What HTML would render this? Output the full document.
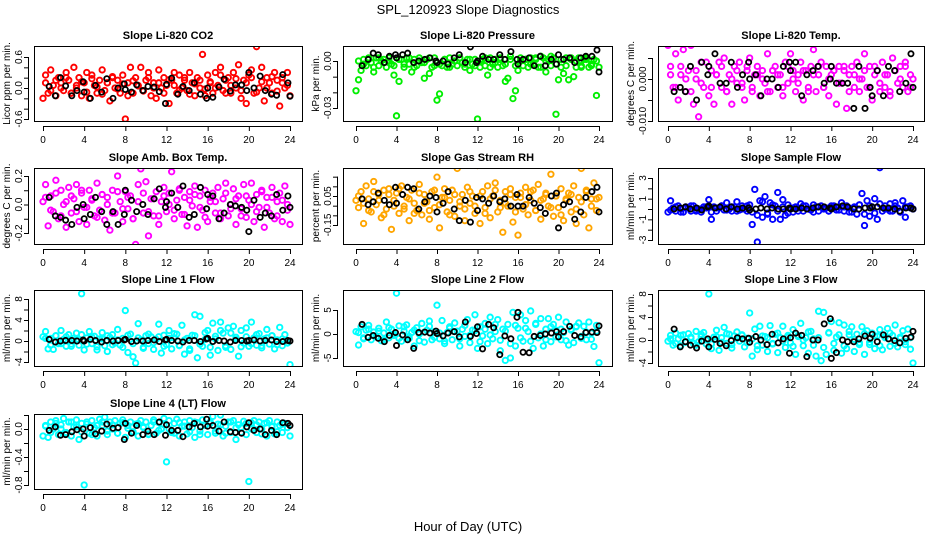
<!DOCTYPE html>
<html><head><meta charset="utf-8"><style>
html,body{margin:0;padding:0;background:#fff;}
svg{display:block;font-family:"Liberation Sans",sans-serif;}
</style></head><body>
<svg id="chart" width="936" height="540" viewBox="0 0 936 540">
<text x="468" y="14" text-anchor="middle" font-size="13">SPL_120923  Slope Diagnostics</text>
<text x="468" y="531" text-anchor="middle" font-size="13">Hour of Day (UTC)</text>
</svg>
<script>
const xTicks = [0,4,8,12,16,20,24];
const blackHours = [0.6,1.2,1.7,2.2,2.8,3.3,3.9,4.0,4.6,5.1,5.7,6.2,6.8,7.3,7.9,8.0,8.6,9.1,9.7,10.2,10.8,11.3,11.9,12.0,12.5,13.1,13.6,14.2,14.7,15.3,15.9,16.0,16.5,17.1,17.6,18.2,18.7,19.3,19.8,20.0,20.5,21.1,21.6,22.2,22.7,23.3,23.8,24.0];
const titles = ["Slope Li-820 CO2","Slope Li-820 Pressure","Slope Li-820 Temp.","Slope Amb. Box Temp.","Slope Gas Stream RH","Slope Sample Flow","Slope Line 1 Flow","Slope Line 2 Flow","Slope Line 3 Flow","Slope Line 4 (LT) Flow"];
const yTitles = ["Licor ppm per min.","kPa per min.","degrees C per min.","degrees C per min.","percent per min.","ml/min per min.","ml/min per min.","ml/min per min.","ml/min per min.","ml/min per min."];
const colors = ["#ff0000","#00ee00","#ff00ff","#ff00ff","#ffa500","#0000ff","#00ffff","#00ffff","#00ffff","#00ffff"];
const c1 = [-0.2,0.25,-0.1,0.35,0.05,-0.15,0.2,0.1,-0.05,0.3,0.15,-0.1,0.4,0.0,0.2,-0.15,0.1,0.3,-0.2,0.25,0.05,-0.1,0.15,0.35,-0.05,0.1,-0.25,0.2,0.0,0.15,-0.1,0.25,-0.6,0.1,0.4,-0.1,0.2,0.05,0.4,-0.05,0.15,0.3,-0.15,0.1,-0.2,0.35,0.0,0.2,0.05,-0.3,0.15,0.3,-0.1,0.25,0.0,0.15,-0.05,0.3,0.1,-0.15,0.2,0.0,0.65,-0.15,0.25,0.1,-0.1,0.3,0.05,0.4,-0.05,0.15,0.2,-0.1,0.3,0.0,0.45,-0.2,0.15,-0.3,0.25,0.35,-0.1,0.8,0.0,0.4,-0.25,0.2,0.1,-0.1,0.3,0.15,-0.35,0.2,0.0,0.3,-0.15];
const d1 = [0.1,-0.05,0.15,0.0,0.2,-0.1,0.05,0.12,-0.08,0.18,0.02,-0.12,0.1,0.22,-0.02,0.08,-0.15,0.14,0.04,-0.06,0.2,0.0,0.1,-0.1,0.16,0.05,-0.04,0.2,-0.12,0.08,0.15,-0.02,0.12,0.0,0.25,-0.1,0.05,0.18,-0.05,0.1,0.2,-0.08,0.12,0.0,0.22,-0.06,0.1,0.05];
const b1 = [0.03,-0.15,0.2,0.04,-0.15,-0.05,0.12,-0.08,-0.2,0.05,-0.08,0.18,-0.2,0.0,0.08,-0.03,-0.08,0.06,-0.05,0.03,0.02,-0.07,-0.3,0.07,0.19,-0.12,0.03,-0.05,0.1,-0.12,-0.2,0.0,-0.18,0.02,0.17,-0.06,0.06,0.06,-0.05,0.3,0.0,0.23,-0.05,-0.12,-0.14,0.26,0.1,-0.16];
const c2 = [-0.019,-0.012,-0.006,0.001,-0.003,0.002,-0.001,-0.007,0.002,-0.003,0.0,0.001,-0.004,0.002,-0.002,-0.009,-0.035,-0.013,0.001,-0.004,0.002,-0.002,-0.007,0.001,-0.003,0.002,-0.001,-0.011,0.001,-0.008,-0.004,0.002,-0.025,-0.021,-0.003,0.001,-0.004,0.002,-0.002,0.0,-0.003,0.002,-0.001,-0.004,0.001,-0.006,-0.002,0.001,-0.037,-0.004,0.001,-0.003,-0.009,0.002,-0.002,0.001,-0.004,0.002,-0.003,-0.013,-0.011,0.001,-0.024,-0.019,-0.006,0.002,-0.003,0.001,-0.004,0.002,-0.002,0.001,-0.004,0.003,0.002,-0.007,0.001,-0.003,0.002,-0.034,-0.012,-0.004,-0.008,0.002,-0.012,0.001,-0.010,-0.004,0.002,-0.003,0.001,0.002,-0.004,-0.003,0.001,-0.022,-0.004];
const d2 = [0.0,-0.002,0.001,-0.004,0.002,-0.001,0.0,-0.003,0.001,-0.002,0.002,-0.004,0.0,-0.001,0.002,-0.003,-0.002,0.001,-0.004,0.0,0.002,-0.002,0.001,-0.003,0.0,0.002,-0.004,-0.001,0.001,-0.002,0.003,-0.003,0.0,0.001,-0.002,0.002,-0.004,0.0,0.003,-0.002,0.001,-0.003,0.002,0.0,-0.004,0.001,-0.002,0.0];
const b2 = [-0.003,0.001,0.005,0.004,-0.001,0.003,0.004,0.002,0.004,0.005,-0.001,0.0,0.001,0.002,0.0,-0.001,0.0,-0.002,0.002,0.004,-0.001,0.009,-0.001,0.0,0.003,0.001,0.001,0.004,0.001,0.006,0.001,-0.002,0.001,0.002,-0.003,0.003,-0.003,0.001,-0.002,0.004,0.001,0.002,-0.001,0.002,0.003,0.003,0.007,-0.007];
const c3 = [0.008,0.003,-0.002,0.006,-0.005,0.001,0.007,-0.003,0.002,0.008,-0.006,0.0,-0.009,0.004,-0.002,0.009,-0.004,0.002,-0.006,0.001,0.004,-0.002,0.005,-0.003,0.001,-0.006,0.003,-0.001,0.004,-0.002,-0.005,0.002,0.005,-0.003,0.001,0.003,-0.004,0.002,-0.001,0.006,-0.003,0.002,0.003,-0.002,0.001,-0.004,0.004,-0.001,0.006,0.002,-0.003,0.001,0.004,-0.005,0.002,-0.002,0.003,0.007,-0.003,0.001,0.004,-0.002,0.003,-0.004,0.001,0.002,-0.006,0.003,-0.001,0.002,-0.007,0.001,0.003,-0.002,0.004,-0.003,0.0,0.006,-0.002,0.003,-0.005,0.001,0.002,-0.003,0.004,-0.002,0.001,-0.004,0.005,0.002,-0.001,0.003,-0.002,0.004,-0.003,0.001,0.0];
const d3 = [0.001,-0.002,0.003,0.0,-0.003,0.002,-0.001,0.004,-0.002,0.001,0.003,-0.003,0.0,0.002,-0.001,0.003,-0.002,0.001,0.0,-0.003,0.002,0.001,-0.002,0.003,0.0,-0.001,0.002,-0.003,0.001,0.003,-0.002,0.0,0.002,-0.001,0.003,-0.003,0.001,0.0,0.002,-0.002,0.003,-0.001,0.001,-0.003,0.002,0.0,0.003,-0.002];
const b3 = [-0.003,-0.002,-0.003,0.003,-0.005,0.004,0.001,0.003,0.006,-0.001,-0.001,0.004,-0.002,0.001,0.004,0.0,0.001,-0.004,0.0,0.0,-0.002,0.003,0.004,0.002,0.004,-0.004,0.001,0.002,0.003,-0.001,0.0,0.003,-0.001,-0.001,-0.001,-0.007,0.003,-0.007,-0.002,-0.004,0.002,-0.004,0.003,0.002,-0.003,-0.001,0.006,-0.002];
const c4 = [0.02,0.14,-0.15,0.06,-0.05,0.17,-0.1,0.1,0.0,-0.16,0.12,-0.06,0.04,0.14,-0.12,0.08,-0.02,-0.14,0.1,0.03,-0.08,0.15,-0.04,0.07,-0.11,0.05,-0.18,0.1,-0.06,0.2,0.02,-0.12,0.09,-0.03,0.06,-0.1,-0.28,0.14,0.25,-0.06,0.16,-0.22,0.04,-0.08,0.09,-0.14,0.02,0.12,-0.05,0.08,0.23,-0.1,0.03,0.11,-0.07,0.05,-0.15,0.09,-0.01,0.13,-0.16,0.06,-0.04,0.1,-0.12,0.02,0.08,-0.06,0.12,-0.1,0.04,0.15,-0.08,0.0,0.11,-0.14,0.06,-0.03,0.14,-0.09,0.03,0.15,-0.12,0.07,-0.02,0.1,-0.16,0.05,-0.06,0.12,-0.1,0.02,0.08,-0.12,0.13,-0.04,-0.14];
const d4 = [0.05,-0.04,0.08,-0.08,0.02,0.06,-0.05,0.1,-0.02,0.04,-0.09,0.07,0.0,-0.06,0.09,-0.03,0.05,-0.1,0.02,0.08,-0.05,0.04,-0.08,0.06,0.0,-0.04,0.1,-0.07,0.03,0.07,-0.02,-0.09,0.05,0.02,-0.06,0.08,-0.03,0.04,-0.08,0.06,0.0,-0.05,0.09,-0.02,0.05,-0.08,0.03,0.0];
const b4 = [0.05,-0.08,-0.09,-0.11,-0.14,-0.02,0.0,-0.1,-0.07,0.05,-0.05,-0.14,-0.05,-0.14,-0.07,0.1,0.03,-0.05,0.0,-0.07,0.04,0.11,-0.02,0.02,0.08,-0.02,0.13,-0.09,-0.07,0.12,-0.03,0.07,0.06,-0.1,-0.06,0.0,-0.01,-0.02,-0.04,-0.19,0.03,-0.09,-0.06,-0.08,0.07,-0.04,0.06,-0.02];
const c5 = [0.02,-0.03,0.08,-0.14,0.12,0.03,-0.06,0.15,-0.01,0.06,-0.1,0.09,-0.04,0.1,-0.18,0.02,0.07,-0.07,0.12,-0.02,0.04,-0.12,0.09,0.0,-0.05,0.13,-0.08,0.06,0.01,-0.11,0.08,-0.03,0.18,-0.17,0.04,0.1,-0.06,0.02,0.09,-0.09,0.24,-0.02,0.06,-0.12,0.11,0.0,0.05,-0.07,0.26,-0.14,0.08,-0.03,0.12,-0.1,0.05,0.14,-0.06,0.02,-0.2,0.08,-0.02,0.1,-0.13,0.04,-0.22,0.07,-0.04,0.11,-0.08,0.02,0.09,-0.05,0.13,-0.11,0.03,0.06,-0.02,0.2,-0.09,0.05,-0.03,0.1,-0.12,0.02,0.07,-0.06,0.12,-0.14,0.04,0.24,-0.08,0.09,-0.17,0.03,0.14,-0.05,0.04];
const d5 = [0.05,0.0,-0.05,0.08,0.02,-0.08,0.06,-0.02,0.1,-0.04,0.03,-0.07,0.07,0.0,-0.05,0.09,-0.01,0.04,-0.08,0.06,0.01,-0.04,0.08,-0.02,0.05,-0.07,0.03,0.09,-0.03,0.0,0.06,-0.06,0.04,-0.01,0.08,-0.05,0.02,0.07,-0.03,0.05,-0.08,0.03,0.06,-0.04,0.01,0.08,-0.02,0.03];
const b5 = [0.03,-0.01,0.01,0.07,0.02,-0.01,0.11,0.0,0.06,0.11,0.1,-0.04,0.01,0.05,0.04,-0.06,0.0,0.08,-0.04,-0.12,0.02,-0.13,0.04,-0.05,0.03,0.0,0.05,0.01,0.03,-0.02,0.06,-0.02,-0.02,0.04,0.0,-0.03,-0.07,0.05,0.07,-0.17,-0.01,0.01,-0.11,-0.06,0.04,0.08,0.11,-0.06];
const c6 = [-0.3,0.8,0.1,-0.2,0.3,0.0,-0.3,0.2,0.1,-0.2,0.3,-0.1,0.0,-0.3,0.2,0.1,0.9,-1.0,0.2,-0.2,0.1,0.3,-0.1,0.6,0.0,-0.2,0.2,0.7,-0.1,0.3,0.0,-0.2,0.4,-1.5,1.9,-3.2,0.8,-0.8,1.2,-0.4,0.6,-1.0,0.3,1.6,-1.0,0.2,-0.6,0.4,0.0,-0.3,0.2,0.1,0.5,-0.2,0.3,0.0,-0.1,0.4,0.2,-0.2,0.3,0.0,0.1,-0.2,0.3,0.1,-0.1,0.2,0.6,-0.2,0.3,0.1,-0.3,0.2,-0.5,0.4,1.5,-1.6,0.8,-0.7,0.2,1.0,-1.0,4.0,-0.2,0.3,0.0,0.5,-0.2,0.6,0.1,-0.3,0.8,-0.8,0.2,0.3,0.0];
const d6 = [-0.1,0.2,-0.3,0.1,0.3,-0.2,0.0,0.2,-0.3,0.1,0.3,-0.1,0.2,-0.2,0.0,0.3,-0.3,-0.6,0.7,-0.5,0.4,-0.2,0.9,-0.4,0.1,-0.2,0.3,0.0,-0.3,0.2,0.1,-0.2,0.3,-0.1,0.2,-0.3,0.1,0.4,-0.5,0.3,-0.4,0.5,0.0,-0.2,0.3,-0.3,0.2,0.1];
const b6 = [0.0,0.1,0.2,0.0,0.1,-0.1,0.2,0.3,0.1,0.2,0.0,0.2,0.0,0.1,0.1,-0.1,0.0,0.1,0.0,0.1,0.0,0.0,0.1,0.0,0.0,0.1,0.0,0.1,0.2,0.2,0.1,0.0,0.2,0.3,0.2,0.0,0.0,0.1,0.1,0.2,0.2,0.1,0.1,0.0,-0.2,0.1,0.1,0.0];
const c7 = [0.8,1.8,-1.5,0.5,-1.6,1.0,-0.5,2.0,0.3,-1.0,1.2,-0.6,0.5,1.5,-0.8,9.0,-1.7,0.6,1.8,-0.5,0.9,-1.7,0.4,1.6,-0.9,-2.0,0.7,1.2,-0.4,2.2,-0.8,0.5,5.8,-2.2,1.3,-3.0,-4.2,3.3,0.2,-1.2,1.0,-0.5,0.8,-1.6,0.3,3.2,-2.3,1.1,-0.7,2.0,-1.5,0.6,1.3,-0.9,3.0,-2.5,0.5,-1.8,1.1,5.0,-3.2,4.7,-1.0,0.3,2.0,-2.7,3.4,0.9,-1.8,3.6,1.5,-1.2,2.5,-1.6,2.8,0.7,-2.9,2.0,-0.4,2.5,-1.0,3.6,0.6,-0.8,1.4,-1.3,0.4,2.2,-0.6,1.0,-1.5,0.2,2.6,-0.9,1.2,-0.4,-4.5];
const d7 = [0.5,-0.8,1.0,-0.5,0.8,-1.0,0.3,1.2,-0.6,0.7,-1.1,0.4,1.0,-0.7,0.2,-1.2,1.1,-0.5,0.6,-1.4,1.3,-0.3,0.8,-1.0,0.5,1.4,-0.8,0.2,-1.5,1.0,-0.6,1.6,-1.2,0.4,2.0,-0.9,1.5,0.3,-1.1,0.8,-0.5,1.2,-0.9,0.6,1.0,-0.7,0.4,-0.3];
const b7 = [0.3,-0.2,0.0,0.1,0.1,0.0,0.2,0.0,0.3,0.1,-0.2,0.1,0.0,0.1,0.2,0.3,-0.1,0.0,0.0,0.1,0.2,-0.1,0.2,0.3,0.1,0.0,-0.2,0.1,0.1,-0.1,0.4,0.5,-0.1,0.1,0.0,-0.2,0.1,0.1,0.0,0.1,0.2,0.0,0.1,0.2,-0.1,-0.1,0.1,0.0];
const c8 = [0.5,-2.3,1.5,-1.0,0.8,1.8,-1.2,0.4,-0.6,1.2,-1.4,0.2,2.5,-0.8,1.0,-0.3,8.5,1.7,-1.5,0.6,1.9,-0.9,0.3,-2.5,1.3,0.0,2.2,-1.7,0.8,2.7,-1.2,0.5,6.0,-1.0,2.8,-2.0,0.3,1.5,-1.2,2.3,0.6,-2.5,1.0,-0.5,3.0,-1.8,0.8,4.0,-3.0,1.5,-0.4,2.2,-2.0,3.5,-1.0,0.5,3.0,-3.5,1.0,-5.5,2.0,-5.0,4.5,-2.5,1.2,4.0,-1.5,2.8,0.5,4.8,-3.0,2.0,-0.8,3.2,-2.5,1.0,3.2,-1.6,2.0,0.8,3.5,-1.2,0.3,2.5,-2.3,1.0,-1.8,1.5,2.3,-0.5,1.6,-1.2,2.5,0.2,-2.6,1.8,-6.0];
const d8 = [0.3,-0.8,1.0,-0.4,0.6,-1.2,1.3,0.0,-0.9,1.5,-0.5,0.8,-1.4,0.4,1.6,-0.7,0.2,-1.5,1.2,0.5,-1.0,1.8,-0.3,0.7,-1.6,1.0,-0.2,2.0,-1.3,0.6,-2.0,1.8,-0.8,1.2,-1.5,2.2,0.0,-1.2,1.5,-0.6,1.0,-1.4,0.8,1.6,-0.9,0.4,-1.1,0.6];
const b8 = [2.0,-0.7,-0.3,-0.9,-1.6,-0.3,0.3,-2.4,-0.2,-1.2,-3.0,0.3,0.4,0.2,0.6,0.1,-0.4,0.2,0.5,-0.6,2.5,-0.5,0.1,1.5,-3.1,2.0,1.3,-4.3,-0.4,-1.0,3.5,4.5,-3.8,-3.9,-0.5,-0.3,0.0,0.2,0.5,-0.6,0.5,1.6,-0.3,-0.6,0.3,0.4,0.3,1.7];
const c9 = [-0.2,0.8,-0.9,1.2,0.2,-1.0,0.9,-0.4,1.1,0.3,-0.6,1.5,-0.3,0.6,1.3,-0.7,8.0,-1.5,0.5,1.7,-1.8,0.4,2.2,-0.6,1.0,-1.4,0.7,1.4,-0.2,0.8,-1.2,0.3,4.7,-2.8,1.9,-1.7,2.4,-0.9,0.6,-2.0,2.5,-0.7,1.0,-2.2,0.4,2.4,-1.3,0.8,-0.5,1.8,-2.5,0.6,2.9,-1.0,0.4,-2.3,1.5,0.2,-2.8,5.0,-3.6,4.8,-2.5,1.2,3.2,-1.8,0.5,3.0,-2.3,2.6,-1.5,0.9,2.3,-2.0,1.0,-0.5,2.3,-2.5,1.6,-0.8,1.2,-1.5,0.7,1.8,-1.7,0.4,2.0,-1.1,0.8,2.6,-1.2,0.5,1.6,-0.3,1.9,-1.6,-4.0];
const d9 = [0.2,-0.6,0.8,-0.3,0.5,-0.9,1.0,0.0,-0.7,0.6,-0.4,1.1,-0.8,0.3,0.9,-0.5,0.2,-1.0,0.7,0.4,-0.6,1.2,-0.2,0.5,-1.1,0.8,0.0,1.4,-0.9,0.4,-1.3,1.3,-0.6,0.9,-1.0,1.5,0.1,-0.8,1.1,-0.4,0.7,-1.0,0.6,1.2,-0.6,0.3,-0.8,0.4];
const b9 = [1.9,-1.2,-0.3,-0.9,-1.4,-0.2,0.2,-1.2,0.1,-0.6,-1.0,-0.1,0.4,0.2,0.3,-0.4,0.6,0.0,-0.8,1.0,-0.5,0.2,-2.3,0.4,1.2,0.8,-2.9,0.0,0.0,2.8,3.7,-3.2,-2.2,0.0,-0.3,-0.3,0.2,0.7,0.3,1.0,-0.3,0.9,0.2,-0.1,-0.5,0.3,0.5,1.5];
const c10 = [-0.1,0.05,-0.12,0.1,0.0,0.12,-0.08,0.06,0.15,-0.05,0.1,-0.1,0.03,0.13,-0.15,0.08,-0.8,0.1,-0.06,0.12,0.02,-0.1,0.14,0.05,0.17,-0.08,0.1,0.0,0.12,-0.06,0.08,0.13,-0.12,0.05,0.1,-0.04,0.07,-0.1,0.12,0.02,0.1,-0.08,0.05,0.13,-0.06,0.09,0.0,0.15,-0.47,0.12,-0.05,0.08,0.14,-0.1,0.04,0.1,-0.07,0.12,0.02,-0.12,0.09,-0.03,0.13,0.06,-0.08,0.1,0.18,-0.06,0.07,0.2,-0.1,0.04,0.1,-0.05,0.12,-0.15,0.06,0.02,0.11,-0.08,-0.75,0.09,0.12,-0.05,0.1,0.0,0.08,-0.1,0.12,0.04,-0.07,0.1,0.05,-0.05,0.08,0.02,-0.1];
const d10 = [0.04,-0.05,0.08,0.0,-0.07,0.1,0.03,-0.04,0.07,-0.08,0.05,0.1,-0.03,0.06,-0.06,0.09,0.01,-0.05,0.08,0.03,-0.07,0.1,-0.02,0.06,0.0,-0.06,0.09,0.04,-0.04,0.1,-0.08,0.05,0.08,-0.03,0.06,-0.06,0.1,0.02,-0.05,0.08,0.0,0.06,-0.07,0.09,0.03,-0.04,0.07,0.02];
const b10 = [-0.02,0.03,-0.09,-0.08,-0.04,-0.01,0.0,-0.1,0.02,-0.07,-0.03,0.07,0.01,0.02,-0.15,0.08,-0.06,0.05,-0.08,-0.03,-0.08,0.1,-0.09,0.06,-0.02,-0.02,-0.11,0.03,0.08,0.03,0.14,0.04,0.05,-0.03,0.1,-0.04,-0.05,-0.06,0.03,0.09,-0.02,0.0,-0.08,-0.02,-0.08,0.09,0.08,0.05];
const colorSeries = [c1,c2,c3,c4,c5,c6,c7,c8,c9,c10];
const colorSeries2 = [d1,d2,d3,d4,d5,d6,d7,d8,d9,d10];
const blackSeries = [b1,b2,b3,b4,b5,b6,b7,b8,b9,b10];
const yTickVals = [[0.6,0.4,0.2,0,-0.2,-0.4,-0.6],[0,-0.01,-0.02,-0.03],[0.005,0,-0.005,-0.01],[0.2,0.1,0,-0.1,-0.2],[0.1833,0.1167,0.05,-0.0167,-0.0833,-0.15],[3,2,1,0,-1,-2,-3],[8,6,4,2,0,-2,-4],[5,0,-5],[8,6,4,2,0,-2,-4],[0.2,0,-0.2,-0.4,-0.6,-0.8]];
const yTickLabels = [["0.6","","","0.0","","","-0.6"],["0.00","","","-0.03"],["","0.000","","-0.010"],["0.2","","0.0","","-0.2"],["","","0.05","","","-0.15"],["3","","1","","-1","","-3"],["8","","4","","0","","-4"],["5","0","-5"],["8","","4","","0","","-4"],["","0.0","","-0.4","","-0.8"]];
const cols = [{l:34,r:302,x0:43,x1:290},{l:343,r:612,x0:356,x1:599},{l:658,r:924,x0:668,x1:913}];
const rows = [{t:46,b:121},{t:168,b:244},{t:290,b:366},{t:414,b:489}];
const yRefs = [[0.6,57,-0.6,119],[0,61,-0.03,108],[0,79,-0.01,121],[0.2,176,-0.2,233],[0.05,196,-0.15,225],[3,178,-3,240],[8,299,-4,362],[5,310,-5,358],[8,294,-4,363],[0,429,-0.8,485]];

const NS = "http://www.w3.org/2000/svg";
const svg = document.getElementById('chart');
function mk(tag, attrs, parent){const e=document.createElementNS(NS,tag);for(const k in attrs)e.setAttribute(k,attrs[k]);(parent||svg).appendChild(e);return e;}

titles.forEach((title, i) => {
  const col = cols[i % 3], row = rows[Math.floor(i / 3)];
  const g = mk('g', {});
  
  
  const xs = v => col.x0 + (v / 24) * (col.x1 - col.x0);
  const [v1, p1, v2, p2] = yRefs[i];
  const ys = v => p1 + (v - v1) * (p2 - p1) / (v2 - v1);
  const clip = mk('clipPath', {id: 'clip' + i}, g);
  mk('rect', {x: col.l, y: row.t, width: col.r - col.l, height: row.b - row.t}, clip);
  const pts = mk('g', {'clip-path': 'url(#clip' + i + ')'}, g);
  const cs = colorSeries[i];
  cs.forEach((v, k) => {
    const c = mk('circle', {cx: xs(k * 24 / (cs.length - 1)), cy: ys(v), r: 2.7, fill: 'none', stroke: colors[i], 'stroke-width': 1.9}, pts);
    
    
  });
  const cs2 = colorSeries2[i];
  cs2.forEach((v, k) => {
    const c = mk('circle', {cx: xs((k + 0.5) * 24 / cs2.length), cy: ys(v), r: 2.7, fill: 'none', stroke: colors[i], 'stroke-width': 1.9}, pts);
    
    
  });
  blackSeries[i].forEach((v, k) => {
    const c = mk('circle', {cx: xs(blackHours[k]), cy: ys(v), r: 2.6, fill: 'none', stroke: '#000', 'stroke-width': 1.8}, pts);
    
    
  });
  const box = mk('rect', {x: col.l + 0.5, y: row.t + 0.5, width: col.r - col.l, height: row.b - row.t, fill: 'none', stroke: '#000', 'stroke-width': 1}, g);
  
  
  const t = mk('text', {x: (col.l + col.r) / 2, y: row.t - 7, 'text-anchor': 'middle', 'font-size': 11, 'font-weight': 'bold'}, g);
  t.textContent = title;
  
  
  mk('line', {x1: xs(0), x2: xs(24), y1: row.b + 5.5, y2: row.b + 5.5, stroke: '#000'}, g);
  xTicks.forEach(v => {
    mk('line', {x1: xs(v) + 0.5, x2: xs(v) + 0.5, y1: row.b + 5, y2: row.b + 10, stroke: '#000'}, g);
    const tl = mk('text', {x: xs(v), y: row.b + 22, 'text-anchor': 'middle', 'font-size': 10}, g);
    tl.textContent = String(v);
    
    
  });
  const tv = yTickVals[i];
  mk('line', {x1: col.l - 5.5, x2: col.l - 5.5, y1: ys(tv[0]), y2: ys(tv[tv.length - 1]), stroke: '#000'}, g);
  tv.forEach((v, k) => {
    mk('line', {x1: col.l - 10, x2: col.l - 5, y1: ys(v) + 0.5, y2: ys(v) + 0.5, stroke: '#000'}, g);
    const lab = yTickLabels[i][k];
    if (lab) {
      const yl = mk('text', {x: 0, y: 0, 'text-anchor': 'middle', 'font-size': 10, transform: 'translate(' + (col.l - 12) + ',' + ys(v) + ') rotate(-90)'}, g);
      yl.textContent = lab;
      
      
    }
  });
  const yt = mk('text', {x: 0, y: 0, 'text-anchor': 'middle', 'font-size': 10, transform: 'translate(' + (col.l - 24) + ',' + ((row.t + row.b) / 2) + ') rotate(-90)'}, g);
  yt.textContent = yTitles[i];
  
  
});
</script>
</body></html>
